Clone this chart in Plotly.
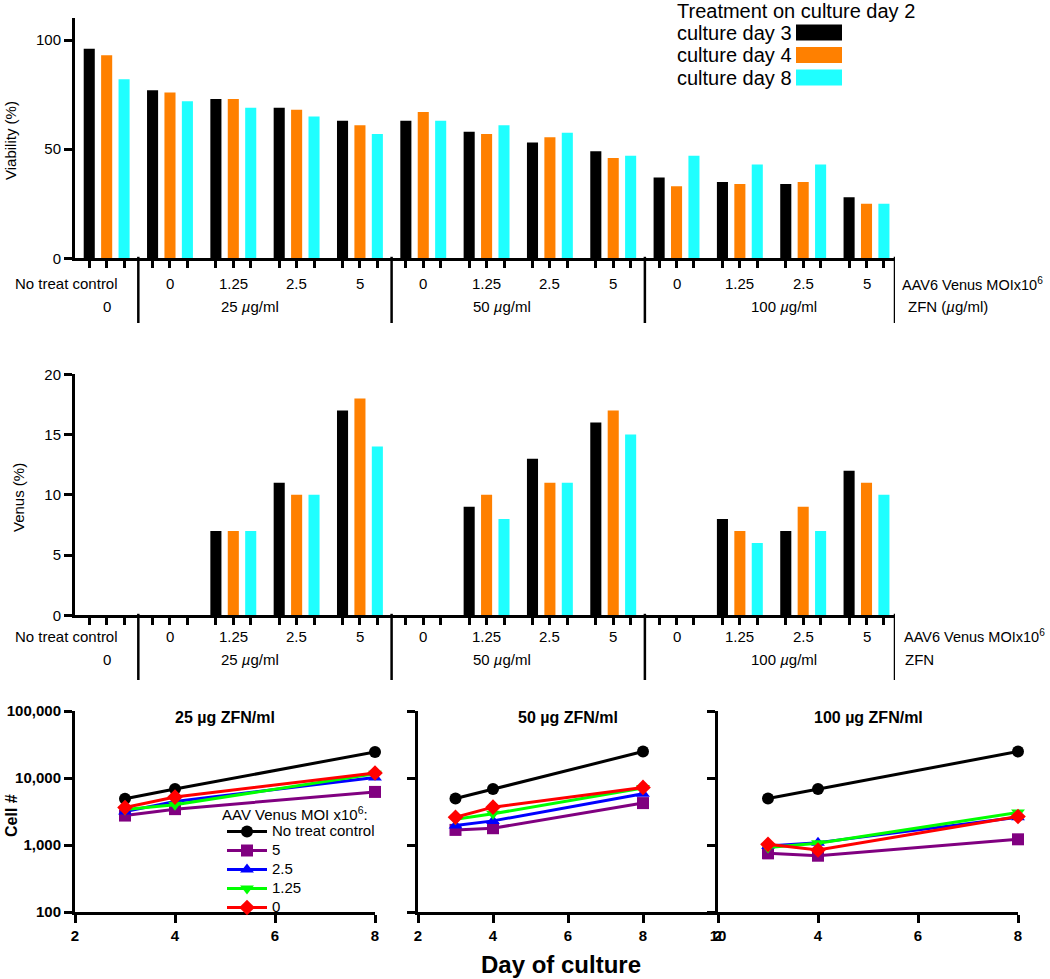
import plotly.graph_objects as go

W, H = 1050, 979
FONT = "Liberation Sans, Arial, Helvetica, sans-serif"

# ---------------- data ----------------
moi_labels = ["No treat control", "0", "1.25", "2.5", "5",
              "0", "1.25", "2.5", "5", "0", "1.25", "2.5", "5"]
zfn_labels_top = ["0", "25 <i>µ</i>g/ml", "50 <i>µ</i>g/ml", "100 <i>µ</i>g/ml"]
day_series = ["culture day 3", "culture day 4", "culture day 8"]

viability_day3 = [96, 77, 73, 69, 63, 63, 58, 53, 49, 37, 35, 34, 28]
viability_day4 = [93, 76, 73, 68, 61, 67, 57, 55.5, 46, 33, 34, 35, 25]
viability_day8 = [82, 72, 69, 65, 57, 63, 61, 57.5, 47, 47, 43, 43, 25]

venus_day3 = [0, 0, 7, 11, 17, 0, 9, 13, 16, 0, 8, 7, 12]
venus_day4 = [0, 0, 7, 10, 18, 0, 10, 11, 17, 0, 7, 9, 11]
venus_day8 = [0, 0, 7, 10, 14, 0, 8, 11, 15, 0, 6, 7, 10]

culture_days = [3, 4, 8]
moi_series = ["No treat control", "5", "2.5", "1.25", "0"]
panel_titles = ["25 µg ZFN/ml", "50 µg ZFN/ml", "100 µg ZFN/ml"]
cells_25 = [[4900, 6850, 24500],
            [2750, 3430, 6200],
            [3150, 4450, 10200],
            [3400, 4000, 11600],
            [3630, 5190, 11900]]
cells_50 = [[4950, 6840, 24800],
            [1680, 1780, 4220],
            [1950, 2290, 5820],
            [2430, 2920, 7100],
            [2600, 3670, 7240]]
cells_100 = [[4950, 6840, 24800],
             [750, 692, 1216],
             [966, 1085, 2600],
             [920, 1060, 3050],
             [1023, 841, 2660]]
y_tick_vals = [100, 1000, 10000, 100000]
y_tick_text = ["100", "1,000", "10,000", "100,000"]

# ---------------- styles ----------------
day_colors = ["#000000", "#FF8000", "#1FFFFF"]
moi_colors = ["#000000", "#800080", "#0000FF", "#00FF00", "#FF0000"]
moi_symbols = ["circle", "square", "triangle-up", "triangle-down", "diamond"]


def px_x(p):
    return p / W


def px_y(p):
    return 1 - p / H


fig = go.Figure()
groups = list(range(len(moi_labels)))

for name, vals, col in zip(day_series, [viability_day3, viability_day4, viability_day8], day_colors):
    fig.add_trace(go.Bar(x=groups, y=vals, name=name, marker=dict(color=col, line=dict(width=0)),
                         xaxis="x", yaxis="y", showlegend=False))
for name, vals, col in zip(day_series, [venus_day3, venus_day4, venus_day8], day_colors):
    fig.add_trace(go.Bar(x=groups, y=vals, name=name, marker=dict(color=col, line=dict(width=0)),
                         xaxis="x2", yaxis="y2", showlegend=False))

for p, (panel, ax) in enumerate(zip([cells_25, cells_50, cells_100], ["3", "4", "5"])):
    for i, (name, vals) in enumerate(zip(moi_series, panel)):
        fig.add_trace(go.Scatter(
            x=culture_days, y=vals, mode="lines+markers",
            name=f'<span style="font-size:15px">{name}</span>',
            line=dict(color=moi_colors[i], width=3),
            marker=dict(color=moi_colors[i], symbol=moi_symbols[i], size=12, line=dict(width=0)),
            xaxis="x" + ax, yaxis="y" + ax, showlegend=(p == 0), cliponaxis=False,
            legendgroup=name))

BAR_GAP = 0.175
slot = (1 - BAR_GAP) / 3
bar_ticks = [g + k * slot for g in groups for k in (-1, 0, 1)]

line_style = dict(showline=True, linewidth=3, linecolor="black", showgrid=False, zeroline=False,
                  ticks="outside", tickcolor="black", tickwidth=2.5, ticklen=8, automargin=False)

X_RANGE = [-0.5, 12.45]
layout_axes = dict(
    xaxis=dict(domain=[px_x(75), px_x(895)], range=X_RANGE, tickvals=bar_ticks, showticklabels=False,
               anchor="y", **{**line_style, "ticklen": 7}),
    yaxis=dict(domain=[px_y(258.3), px_y(18.2)], range=[0, 110], tickvals=[0, 50, 100],
               tickfont=dict(size=15), anchor="x", **line_style),
    xaxis2=dict(domain=[px_x(75), px_x(895)], range=X_RANGE, tickvals=bar_ticks, showticklabels=False,
                anchor="y2", **{**line_style, "ticklen": 7}),
    yaxis2=dict(domain=[px_y(615.3), px_y(374.3)], range=[0, 20], tickvals=[0, 5, 10, 15, 20],
                tickfont=dict(size=15), anchor="x2", **line_style),
)
bottom_x = [(75, 375, [2, 8], [2, 4, 6, 8]),
            (418, 718, [2, 10], [2, 4, 6, 8, 10]),
            (718, 1018, [2, 8], [2, 4, 6, 8])]
for k, (ax, (x0, x1, rng, tv)) in enumerate(zip(["3", "4", "5"], bottom_x)):
    layout_axes["xaxis" + ax] = dict(domain=[px_x(x0), px_x(x1)], range=rng, tickvals=tv,
                                     tickfont=dict(size=15, weight="bold"), anchor="y" + ax, **line_style)
    layout_axes["yaxis" + ax] = dict(domain=[px_y(912), px_y(711)], type="log", range=[2, 5],
                                     tickvals=y_tick_vals, ticktext=y_tick_text,
                                     showticklabels=(k == 0),
                                     tickfont=dict(size=15, weight="bold"), anchor="x" + ax, **line_style)

annotations = []
shapes = []


def add_text(text, x, y, size=15, xref="paper", xanchor="center", angle=0, bold=False):
    annotations.append(dict(text=f"<b>{text}</b>" if bold else text, x=x, y=y, xref=xref, yref="paper",
                            xanchor=xanchor, yanchor="middle", showarrow=False, textangle=angle,
                            font=dict(size=size, family=FONT, color="black")))


zfn_label_pos = [0, 2.27, 6.25, 10.7]
for ax, row1, row2, y_axis_px, y_end_px, right1, right2, r1x, r2x in [
        ("x", 283.5, 306, 258.3, 323, "AAV6 Venus MOIx10<sup>6</sup>", "ZFN (<i>µ</i>g/ml)", 900, 906),
        ("x2", 636, 659, 615.3, 680, "AAV6 Venus MOIx10<sup>6</sup>", "ZFN", 902, 903)]:
    for g, lab in enumerate(moi_labels):
        if g == 0:
            add_text(lab, px_x(66.5), px_y(row1))
        else:
            add_text(lab, g, px_y(row1), xref=ax)
    for pos, lab in zip(zfn_label_pos, zfn_labels_top):
        add_text(lab, pos, px_y(row2), xref=ax)
    add_text(right1, px_x(r1x), px_y(row1), xanchor="left", size=14.5)
    add_text(right2, px_x(r2x), px_y(row2), xanchor="left", size=15)
    for xs in [0.5, 4.5, 8.5, X_RANGE[1]]:
        shapes.append(dict(type="line", xref=ax, yref="paper", x0=xs, x1=xs,
                           y0=px_y(y_axis_px - 1.5), y1=px_y(y_end_px),
                           line=dict(color="black", width=2.5)))

# y axis titles
add_text("Viability (%)", px_x(10), px_y(141), angle=-90, size=15)
add_text("Venus (%)", px_x(18), px_y(498), angle=-90, size=15)
add_text("Cell #", px_x(11), px_y(816), angle=-90, size=16, bold=True)

# bottom panel titles
for title, cx in zip(panel_titles, [225, 568, 868]):
    add_text(title, px_x(cx), px_y(717), size=16, bold=True)
add_text("Day of culture", px_x(561), px_y(964), size=24, bold=True)

# legend heading of the bottom-left panel
annotations.append(dict(text="AAV Venus MOI x10<sup>6</sup>:", x=px_x(220), y=px_y(813), xref="paper",
                        yref="paper", xanchor="left", yanchor="middle", showarrow=False,
                        font=dict(size=15, family=FONT, color="black")))

# top legend (text left, swatch right)
add_text("Treatment on culture day 2", px_x(675), px_y(11), size=20, xanchor="left")
for i, (name, col) in enumerate(zip(day_series, day_colors)):
    cy = 32.5 + 22.5 * i
    add_text(name, px_x(675), px_y(cy), size=20, xanchor="left")
    shapes.append(dict(type="rect", xref="paper", yref="paper",
                       x0=px_x(796), x1=px_x(842), y0=px_y(cy - 8), y1=px_y(cy + 8),
                       fillcolor=col, line=dict(width=0)))

fig.update_layout(
    template="none",
    width=W, height=H, margin=dict(l=0, r=0, t=0, b=0, autoexpand=False),
    paper_bgcolor="white", plot_bgcolor="white",
    font=dict(family=FONT, color="black", size=15),
    barmode="group", bargap=BAR_GAP, bargroupgap=0.364,
    annotations=annotations, shapes=shapes,
    legend=dict(x=px_x(222), y=px_y(817), xanchor="left", yanchor="top",
                bgcolor="rgba(0,0,0,0)", borderwidth=0, tracegroupgap=0, itemwidth=40,
                font=dict(size=12, family=FONT, color="black")),
    **layout_axes,
)

# remove the browser's default 8px page margin so the figure sits at the window's corner
fig.write_html("out.html", config={"displayModeBar": False},
               post_script="document.body.style.margin = '0px';")
